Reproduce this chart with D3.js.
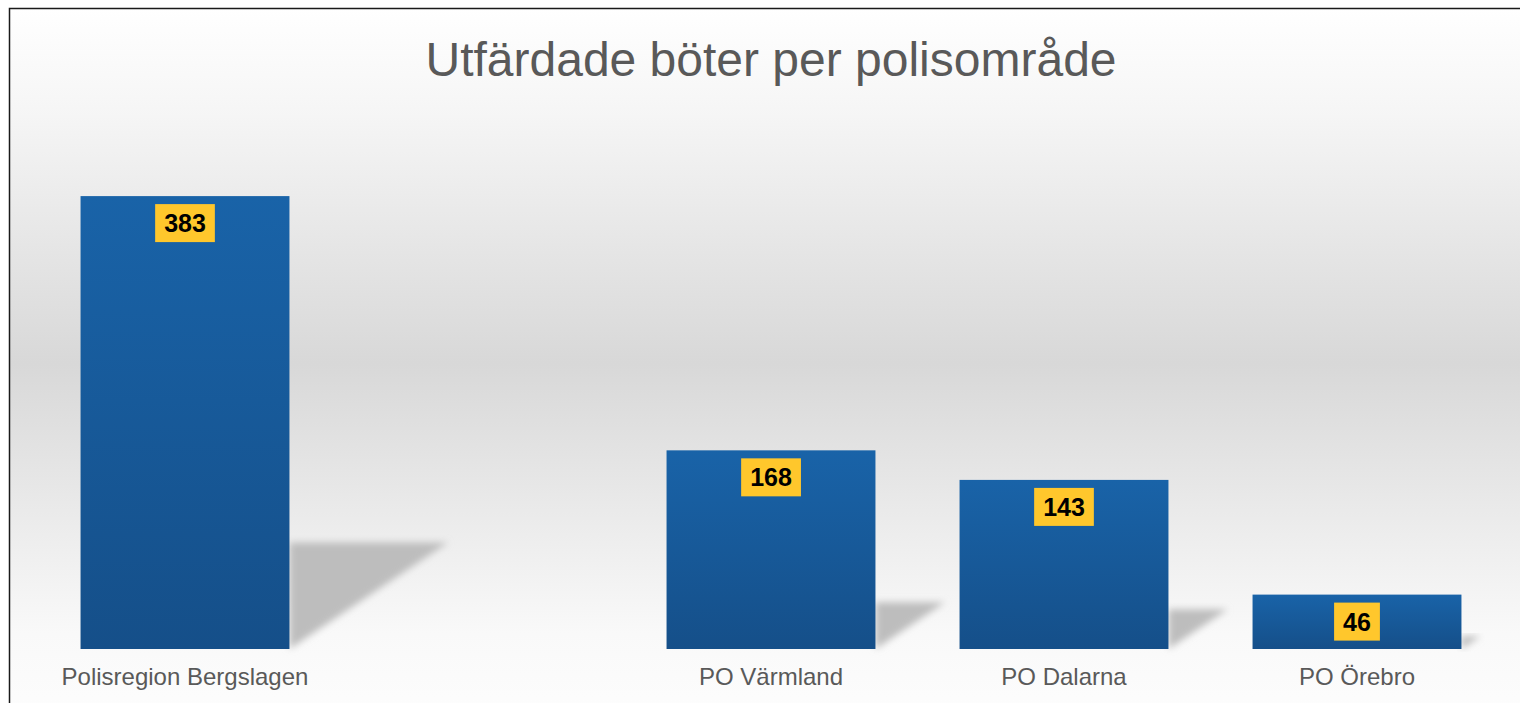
<!DOCTYPE html>
<html>
<head>
<meta charset="utf-8">
<script src="https://cdn.jsdelivr.net/npm/d3@7"></script>
<style>
  body { margin: 0; background: #fff; overflow: hidden; }
  svg { display: block; font-family: Arial, "Liberation Sans", sans-serif; }
</style>
</head>
<body>
<svg id="chart"></svg>
<script>
// chart data
const categories = ['Polisregion Bergslagen', '', 'PO Värmland', 'PO Dalarna', 'PO Örebro'];
const values = [383, null, 168, 143, 46];
const title = 'Utfärdade böter per polisområde';

const width = 1520, height = 703;
const svg = d3.select('#chart').attr('width', width).attr('height', height);
const defs = svg.append('defs');

// background gradient: white -> grey -> white
const bg = defs.append('linearGradient').attr('id', 'bg')
  .attr('x1', 0).attr('y1', 0).attr('x2', 0).attr('y2', 1);
[[0, '#ffffff'], [0.14, '#f6f6f6'], [0.5, '#d8d8d8'], [0.88, '#f9f9f9'], [1, '#fdfdfd']]
  .forEach(([o, c]) => bg.append('stop').attr('offset', o).attr('stop-color', c));

// bar gradient
const barGrad = defs.append('linearGradient').attr('id', 'barGrad')
  .attr('x1', 0).attr('y1', 0).attr('x2', 0).attr('y2', 1);
barGrad.append('stop').attr('offset', 0).attr('stop-color', '#1963a8');
barGrad.append('stop').attr('offset', 1).attr('stop-color', '#154f89');

defs.append('filter').attr('id', 'blur')
  .attr('x', '-20%').attr('y', '-20%').attr('width', '140%').attr('height', '140%')
  .append('feGaussianBlur').attr('stdDeviation', 3.5);

// frame
svg.append('rect')
  .attr('x', 9.5).attr('y', 8.5)
  .attr('width', 1530).attr('height', 710)
  .attr('fill', 'url(#bg)')
  .attr('stroke', '#1a1a1a').attr('stroke-width', 1.5);

// scales
const x = d3.scaleBand()
  .domain(categories)
  .range([38.5, 1503.5])
  .paddingInner(0.287)
  .paddingOuter(0.1435);

const y = d3.scaleLinear().domain([0, 400]).range([649, 176]);

const data = categories.map((c, i) => ({ cat: c, value: values[i] })).filter(d => d.value != null);

// shadows behind the bars
svg.append('g')
  .selectAll('path')
  .data(data)
  .join('path')
  .attr('d', d => {
    const h = y(0) - y(d.value);
    const x0 = x(d.cat) + x.bandwidth();
    const b = y(0);
    return `M${x0},${b} L${x0},${b - h * 0.235} L${x0 + h * 0.35},${b - h * 0.235} Z`;
  })
  .attr('fill', '#bdbdbd')
  .attr('filter', 'url(#blur)');

// bars
svg.append('g')
  .selectAll('rect')
  .data(data)
  .join('rect')
  .attr('x', d => x(d.cat))
  .attr('y', d => y(d.value))
  .attr('width', x.bandwidth())
  .attr('height', d => y(0) - y(d.value))
  .attr('fill', 'url(#barGrad)');

// value labels
const labels = svg.append('g')
  .selectAll('g')
  .data(data)
  .join('g')
  .attr('transform', d => `translate(${x(d.cat) + x.bandwidth() / 2},${y(d.value) + 27})`);

labels.append('text')
  .attr('text-anchor', 'middle')
  .attr('dy', '0.36em')
  .attr('font-size', 25)
  .attr('font-weight', 'bold')
  .attr('fill', '#000')
  .text(d => d.value)
  .each(function () {
    const bb = this.getBBox();
    d3.select(this.parentNode).insert('rect', 'text')
      .attr('x', bb.x - 9)
      .attr('y', -19)
      .attr('width', bb.width + 18)
      .attr('height', 38)
      .attr('fill', '#ffc72c');
  });

// category labels
svg.append('g')
  .selectAll('text')
  .data(categories)
  .join('text')
  .attr('x', d => x(d) + x.bandwidth() / 2)
  .attr('y', 685)
  .attr('text-anchor', 'middle')
  .attr('font-size', 24)
  .attr('fill', '#595959')
  .text(d => d);

// title
svg.append('text')
  .attr('x', 771)
  .attr('y', 76)
  .attr('text-anchor', 'middle')
  .attr('font-size', 48)
  .attr('fill', '#595959')
  .text(title);
</script>
</body>
</html>
